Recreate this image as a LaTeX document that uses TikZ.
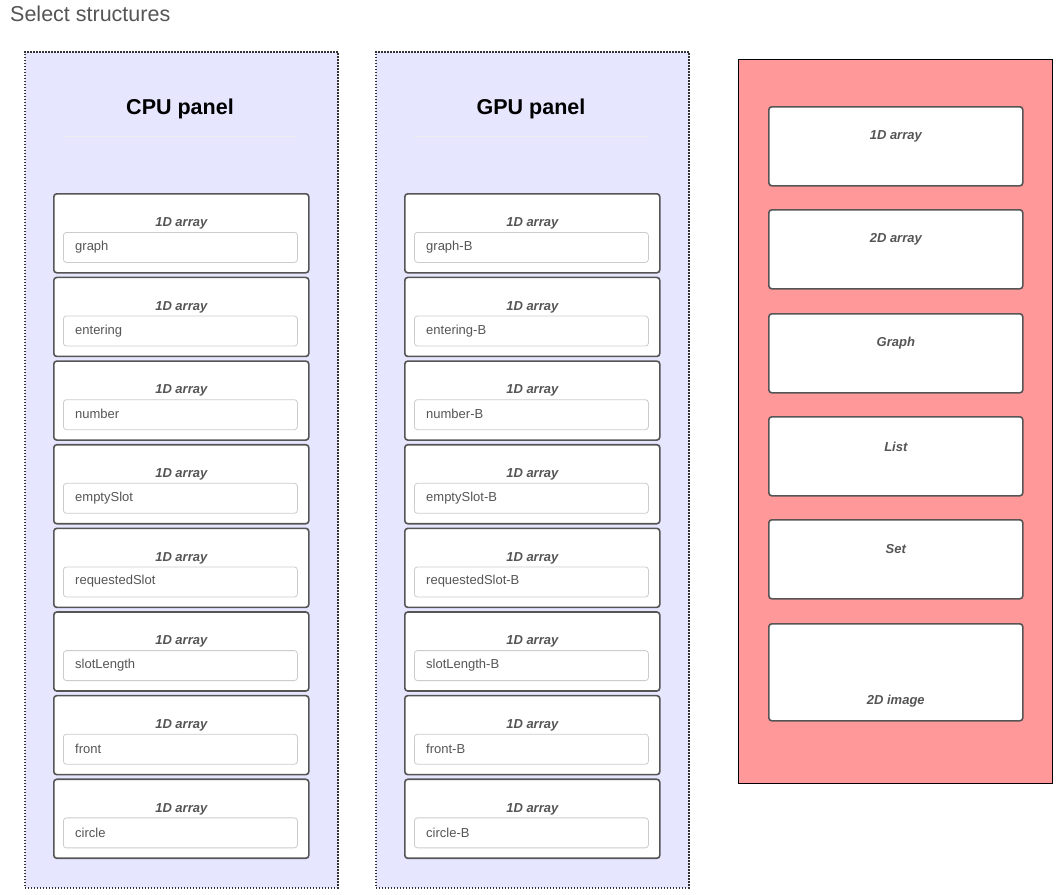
\documentclass[tikz,border=0pt]{standalone}
\usepackage{fontspec}
\setmainfont{Liberation Sans}
\usetikzlibrary{calc}
\definecolor{lav}{HTML}{E6E6FF}
\definecolor{dotc}{HTML}{333333}
\definecolor{cardc}{HTML}{555555}
\definecolor{fieldc}{HTML}{CCCCCC}
\definecolor{txt}{HTML}{555555}
\definecolor{hrc}{HTML}{EEEEEE}
\definecolor{rosy}{HTML}{FF9999}
\tikzset{
  panel/.style={draw=dotc, line width=1.5pt, dash pattern=on 1.5pt off 1.5pt, fill=lav, minimum width=313pt, minimum height=836pt, anchor=north west, inner sep=0pt},
  redpanel/.style={draw=black, line width=1pt, fill=rosy, minimum width=314pt, minimum height=724pt, anchor=north west, inner sep=0pt},
  card/.style={draw=cardc, line width=1.6pt, rounded corners=3pt, fill=white, minimum width=255pt, minimum height=79pt, anchor=north west, inner sep=0pt},
  field/.style={draw=fieldc, line width=0.8pt, rounded corners=3pt, fill=white, minimum width=234pt, minimum height=30pt, anchor=north west, inner sep=0pt},
  kind/.style={font=\fontsize{13}{15}\selectfont\bfseries\itshape, text=txt, inner sep=0pt},
  val/.style={font=\fontsize{13}{15}\selectfont, text=txt, anchor=west, inner sep=0pt},
  heading/.style={font=\fontsize{21.5}{25}\selectfont\bfseries, inner sep=0pt},
  pagetitle/.style={font=\fontsize{21.5}{25}\selectfont, text=txt, anchor=west, inner sep=0pt},
}
\begin{document}
\begin{tikzpicture}[x=1pt,y=-1pt]
\useasboundingbox (0,0) rectangle (1056,894);
\node[pagetitle] (title) at (10,14) {Select structures};
% panels
\node[panel] (cpu) at (24,51) {};
\node[panel] (gpu) at (375,51) {};
\node[heading] (cpuh) at (180,109) {CPU panel};
\node[heading] (gpuh) at (531,109) {GPU panel};
\draw[hrc, line width=0.8pt] (63,136) -- (297,136);
\draw[hrc, line width=0.8pt] (414,136) -- (648,136);
% CPU / GPU cards
\foreach \n [count=\i from 0] in {graph,entering,number,emptySlot,requestedSlot,slotLength,front,circle}{
  \pgfmathsetmacro{\t}{193+\i*83.64}
  \node[card] (c\i) at (53,\t) {};
  \node[kind] (ck\i) at ($(c\i.north)+(0,30.5)$) {1D array};
  \node[field] (cf\i) at (63,\t+39) {};
  \node[val] (cv\i) at (75,\t+54) {\n};
  \node[card] (g\i) at (404,\t) {};
  \node[kind] (gk\i) at ($(g\i.north)+(0,30.5)$) {1D array};
  \node[field] (gf\i) at (414,\t+39) {};
  \node[val] (gv\i) at (426,\t+54) {\n-B};
}
% right panel
\node[redpanel] (rp) at (738,59) {};
\foreach \lab/\t [count=\i from 0] in {1D array/106,2D array/209,Graph/313,List/416,Set/519}{
  \node[card, minimum width=254pt] (r\i) at (768,\t) {};
  \node[kind] (rk\i) at ($(r\i.north)+(0,30.5)$) {\lab};
}
\node[card, minimum width=254pt, minimum height=97pt] (r5) at (768,623) {};
\node[kind] (rk5) at ($(r5.south)+(0,-20.5)$) {2D image};
\end{tikzpicture}
\end{document}
